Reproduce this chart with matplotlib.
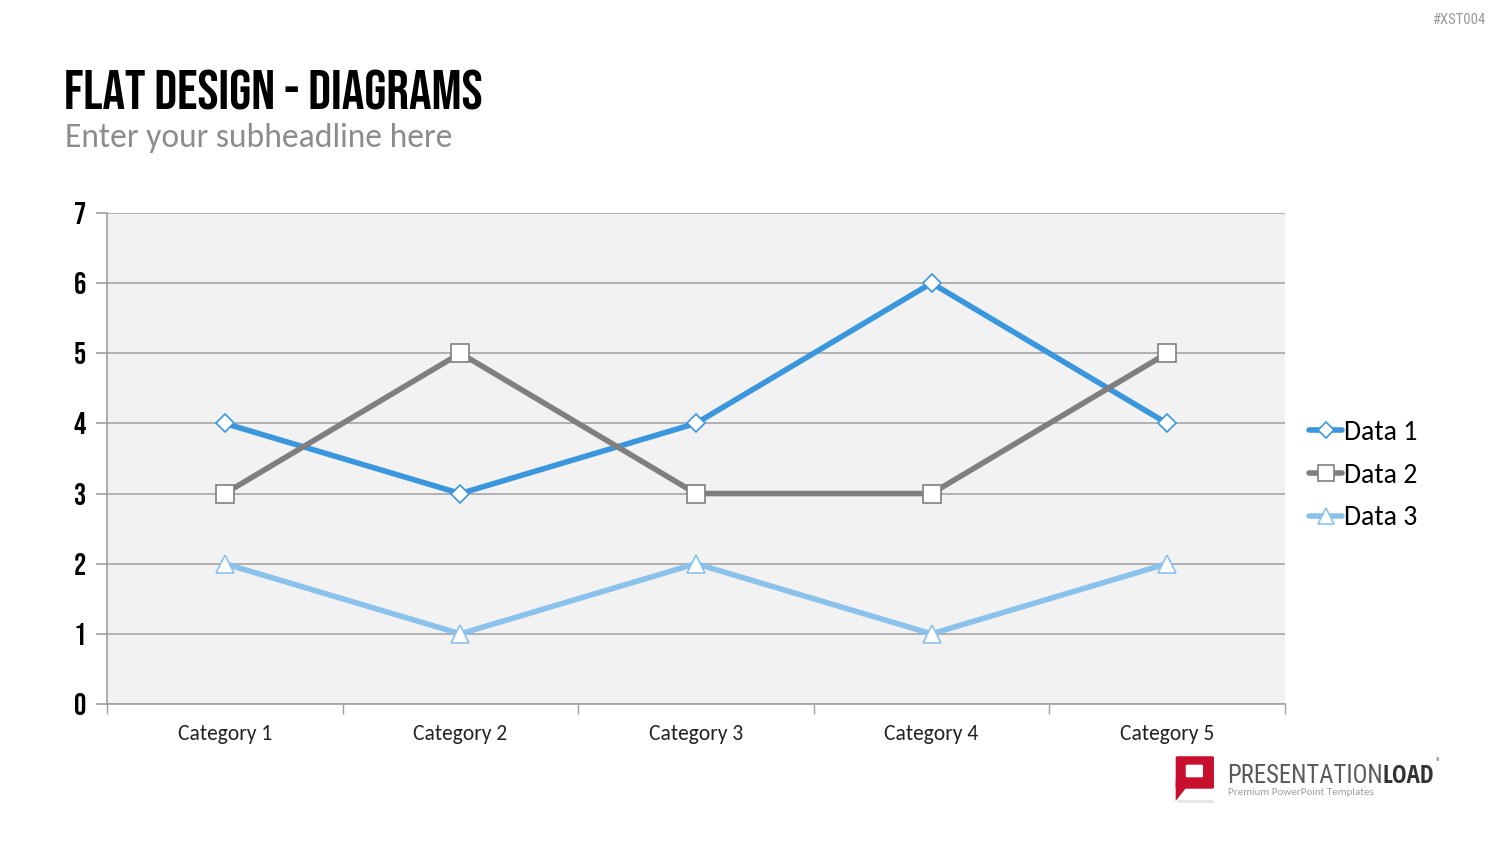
import matplotlib
matplotlib.use('Agg')
import matplotlib.pyplot as plt
from matplotlib.patches import FancyBboxPatch, Polygon, Rectangle

# data
categories = ['Category 1', 'Category 2', 'Category 3', 'Category 4', 'Category 5']
data_1 = [4, 3, 4, 6, 4]
data_2 = [3, 5, 3, 3, 5]
data_3 = [2, 1, 2, 1, 2]
series_names = ['Data 1', 'Data 2', 'Data 3']
y_ticks = [0, 1, 2, 3, 4, 5, 6, 7]

BLUE = '#3a96dd'
GRAY = '#7f7f7f'
LIGHT = '#8ac2eb'
BODY = ['Carlito', 'DejaVu Sans']
HEAD = ['Bebas Neue', 'DejaVu Sans']
NARROW = ['Roboto Condensed', 'DejaVu Sans']
NARROW_BOLD = ['Open Sans Condensed', 'DejaVu Sans']

fig = plt.figure(figsize=(15, 8.44), dpi=100)
fig.patch.set_facecolor('white')

ax = fig.add_axes([0.0713, 0.1659, 0.7853, 0.5818])
ax.set_facecolor('#f2f2f2')

x = list(range(1, len(categories) + 1))
styles = [
    (data_1, BLUE, 'D', 9.5),
    (data_2, GRAY, 's', 13),
    (data_3, LIGHT, '^', 13),
]
handles = []
for (vals, col, mk, ms), name in zip(styles, series_names):
    h, = ax.plot(x, vals, color=col, linewidth=4, marker=mk, markersize=ms,
                 markerfacecolor='white', markeredgecolor=col, markeredgewidth=1.2,
                 solid_capstyle='round', zorder=3, label=name)
    handles.append(h)

ax.set_xlim(0.5, len(categories) + 0.5)
ax.set_ylim(0, 7)
ax.set_yticks(y_ticks)
ax.set_yticklabels([str(v) for v in y_ticks], family=HEAD, fontsize=22, color='black')
ax.set_xticks(x)
ax.set_xticklabels(categories, family=BODY, fontsize=15.5, color='#222222')
ax.set_xticks([v + 0.5 for v in range(len(categories) + 1)], minor=True)
ax.tick_params(axis='x', which='major', length=0, pad=14.5)
ax.tick_params(axis='x', which='minor', length=7, color='#a0a0a0', width=1)
ax.tick_params(axis='y', length=8, color='#a0a0a0', width=1.2, pad=7)
ax.grid(axis='y', color='#a6a6a6', linewidth=1.2, zorder=1)
ax.set_axisbelow(True)
for s in ['top', 'right']:
    ax.spines[s].set_visible(False)
for s in ['left', 'bottom']:
    ax.spines[s].set_color('#a0a0a0')
    ax.spines[s].set_linewidth(1.2)

leg = fig.legend(handles=handles, loc='center left', bbox_to_anchor=(0.856, 0.437),
                 frameon=False, prop={'family': BODY, 'size': 20},
                 handlelength=1.2, handletextpad=0.06, labelspacing=0.64,
                 markerscale=0.85)

# headline
fig.text(0.0425, 0.870, 'FLAT DESIGN - DIAGRAMS', family=HEAD, fontsize=40.5,
         color='black', va='baseline')
fig.text(0.0435, 0.826, 'Enter your subheadline here', family=BODY, fontsize=24.2,
         color='#8c8c8c', va='baseline')
fig.text(0.99, 0.972, '#XST004', family=NARROW, fontsize=10.5, color='#999999',
         ha='right', va='baseline')

# logo
red = '#c8102e'
fig.patches.append(Rectangle((0.7853, 0.048), 0.024, 0.004, transform=fig.transFigure,
                             facecolor='#e6e6e6', edgecolor='none'))
fig.patches.append(FancyBboxPatch((0.7853, 0.067), 0.0225, 0.0355,
                                  boxstyle='round,pad=0.0015', transform=fig.transFigure,
                                  facecolor=red, edgecolor='none'))
fig.patches.append(Polygon([(0.7838, 0.075), (0.7905, 0.066), (0.7838, 0.051)], closed=True,
                           transform=fig.transFigure, facecolor=red, edgecolor='none'))
fig.patches.append(FancyBboxPatch((0.7915, 0.080), 0.0095, 0.013,
                                  boxstyle='round,pad=0.001', transform=fig.transFigure,
                                  facecolor='white', edgecolor='none'))
t1 = fig.text(0.818, 0.0725, 'PRESENTATION', family=NARROW, fontsize=17.8, color='#5a5a5a',
              va='baseline')
fig.canvas.draw()
bb = t1.get_window_extent().transformed(fig.transFigure.inverted())
t2 = fig.text(bb.x1, 0.0725, 'LOAD', family=NARROW_BOLD, fontsize=17.8, fontweight='bold',
              color='#333333', va='baseline')
fig.canvas.draw()
bb2 = t2.get_window_extent().transformed(fig.transFigure.inverted())
fig.text(bb2.x1 + 0.001, 0.094, '®', family=BODY, fontsize=7, color='#777777', va='baseline')
fig.text(0.8185, 0.058, 'Premium PowerPoint Templates', family=BODY, fontsize=8,
         color='#a0a0a0', va='baseline')

fig.savefig('out.png', dpi=100, facecolor='white')
